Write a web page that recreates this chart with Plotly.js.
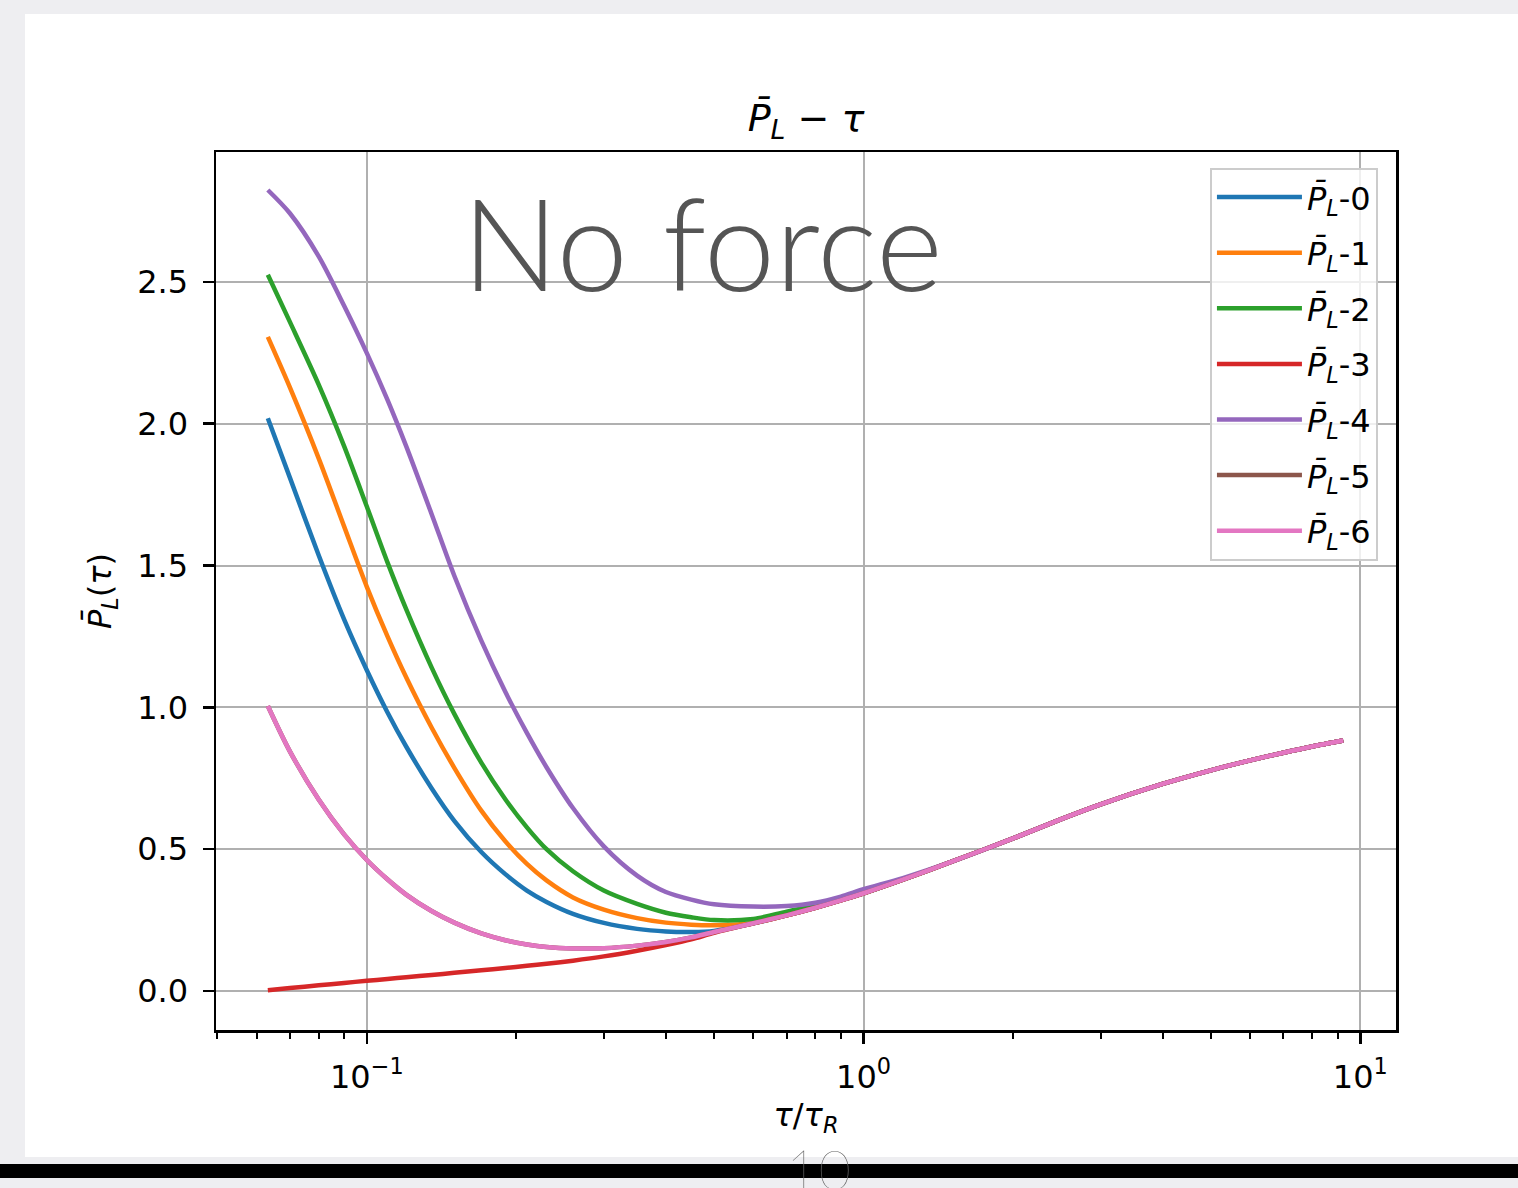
<!DOCTYPE html>
<html><head><meta charset="utf-8">
<script src="https://cdn.plot.ly/plotly-3.0.1.min.js"></script>
<style>
html,body{margin:0;padding:0;width:1518px;height:1188px;overflow:hidden;background:#eeeef1;}
#slide{position:absolute;left:25px;top:14px;width:1493px;height:1143px;background:#fff;}
#bar{position:absolute;left:0;top:1164px;width:1518px;height:14px;background:#000;}
#chart{position:absolute;left:0;top:0;width:1518px;height:1188px;}
#noforce{position:absolute;left:462px;top:178px;font-family:Lato,"Open Sans",sans-serif;font-weight:300;font-size:128px;line-height:128px;color:#555;white-space:nowrap;}
#pnum{position:absolute;left:786px;top:1147px;font-family:Lato,"Open Sans",sans-serif;font-weight:100;font-size:56px;line-height:44px;color:#666;}
</style></head>
<body>
<div id="slide"></div>
<div id="bar"></div>
<div id="chart"></div>
<div id="noforce">No force</div>
<div id="pnum">10</div>
<script>
// tau / tau_R
const tau = [0.0632,0.07,0.08,0.09,0.1,0.11,0.12,0.135,0.15,0.17,0.19,0.21,0.23,0.26,0.3,0.35,0.4,0.45,0.5,0.6,0.7,0.8,0.9,1.0,1.2,1.5,2,2.5,3,4,5,6,7,8,9.24];
const pl0 = [2.019,1.810,1.536,1.310,1.131,0.983,0.862,0.715,0.600,0.490,0.412,0.354,0.314,0.272,0.240,0.219,0.210,0.208,0.212,0.2386,0.2668,0.2936,0.3196,0.3446,0.3926,0.455,0.538,0.606,0.658,0.730,0.778,0.813,0.840,0.862,0.883];
const pl1 = [2.306,2.128,1.878,1.638,1.425,1.251,1.106,0.929,0.787,0.636,0.528,0.448,0.390,0.330,0.287,0.257,0.241,0.234,0.232,0.240,0.2668,0.2936,0.3196,0.3446,0.3926,0.455,0.538,0.606,0.658,0.730,0.778,0.813,0.840,0.862,0.883];
const pl2 = [2.525,2.359,2.138,1.921,1.708,1.512,1.346,1.141,0.977,0.805,0.676,0.577,0.500,0.422,0.354,0.307,0.276,0.260,0.250,0.254,0.280,0.300,0.3215,0.3446,0.3926,0.455,0.538,0.606,0.658,0.730,0.778,0.813,0.840,0.862,0.883];
const pl3 = [0.003,0.0105,0.020,0.0285,0.036,0.0425,0.0485,0.0565,0.064,0.073,0.081,0.089,0.096,0.107,0.122,0.142,0.162,0.182,0.205,0.2386,0.2668,0.2936,0.3196,0.3446,0.3926,0.455,0.538,0.606,0.658,0.730,0.778,0.813,0.840,0.862,0.883];
const pl4 = [2.824,2.742,2.590,2.416,2.249,2.085,1.921,1.682,1.464,1.235,1.055,0.910,0.789,0.645,0.510,0.407,0.349,0.322,0.3055,0.2975,0.2995,0.311,0.3326,0.3587,0.398,0.455,0.538,0.606,0.658,0.730,0.778,0.813,0.840,0.862,0.883];
const pl5 = [1.005,0.845,0.675,0.552,0.462,0.394,0.340,0.282,0.241,0.203,0.179,0.164,0.155,0.150,0.151,0.160,0.173,0.189,0.208,0.2386,0.2668,0.2936,0.3196,0.3446,0.3926,0.455,0.538,0.606,0.658,0.730,0.778,0.813,0.840,0.862,0.883];
const pl6 = [1.005,0.845,0.675,0.552,0.462,0.394,0.340,0.282,0.241,0.203,0.179,0.164,0.155,0.150,0.151,0.160,0.173,0.189,0.208,0.2386,0.2668,0.2936,0.3196,0.3446,0.3926,0.455,0.538,0.606,0.658,0.730,0.778,0.813,0.840,0.862,0.883];
const seriesNames = ['<i>P̄</i><sub><i>L</i></sub>-0','<i>P̄</i><sub><i>L</i></sub>-1','<i>P̄</i><sub><i>L</i></sub>-2','<i>P̄</i><sub><i>L</i></sub>-3','<i>P̄</i><sub><i>L</i></sub>-4','<i>P̄</i><sub><i>L</i></sub>-5','<i>P̄</i><sub><i>L</i></sub>-6'];
const colors = ['#1f77b4','#ff7f0e','#2ca02c','#d62728','#9467bd','#8c564b','#e377c2'];
const xTickVals = [0.1,1,10];
const xTickText = ['10<sup>−1</sup>','10<sup>0</sup>','10<sup>1</sup>'];
const xMinorVals = [0.05,0.06,0.07,0.08,0.09,0.2,0.3,0.4,0.5,0.6,0.7,0.8,0.9,2,3,4,5,6,7,8,9];
const yTickVals = [0,0.5,1,1.5,2,2.5];

const ys = [pl0,pl1,pl2,pl3,pl4,pl5,pl6];
const traces = ys.map((y,i)=>({
  x: tau, y: y, type:'scatter', mode:'lines', name: seriesNames[i],
  legendgroup: 'g'+i,
  line:{color: colors[i], width:4.5, shape:'spline', smoothing:0.8}
}));
const F = 'DejaVu Sans, sans-serif';
const layout = {
  width:1518, height:1188,
  paper_bgcolor:'rgba(0,0,0,0)', plot_bgcolor:'#fff',
  margin:{l:216, r:122, t:152, b:158},
  font:{family:F, size:32, color:'#000'},
  title:{text:'<i>P̄</i><sub><i>L</i></sub> − <i>τ</i>', font:{family:F,size:38,color:'#000'}, x:0.5, xref:'paper', xanchor:'center', y:1, yref:'paper', yanchor:'bottom', pad:{b:21}},
  xaxis:{type:'log', range:[Math.log10(0.0497), Math.log10(11.8)], tickmode:'array', tickvals:xTickVals, ticktext:xTickText,
    ticks:'outside', ticklen:11, tickwidth:2.5, tickcolor:'#000', ticklabelstandoff:6,
    showline:true, mirror:true, linecolor:'#000', linewidth:2.5,
    showgrid:true, gridcolor:'#b0b0b0', gridwidth:2, zeroline:false,
    minor:{tickmode:'array', tickvals:xMinorVals, ticks:'outside', ticklen:6, tickwidth:2, tickcolor:'#000', showgrid:false},
    title:{text:'<i>τ</i>/<i>τ</i><sub><i>R</i></sub>', font:{family:F,size:32,color:'#000'}, standoff:1},
    tickfont:{family:F,size:32,color:'#000'}},
  yaxis:{range:[-0.1375, 2.958], tickmode:'array', tickvals:yTickVals, tickformat:'.1f',
    ticks:'outside', ticklen:11, tickwidth:2.5, tickcolor:'#000', ticklabelstandoff:8,
    showline:true, mirror:true, linecolor:'#000', linewidth:2.5,
    showgrid:true, gridcolor:'#b0b0b0', gridwidth:2, zeroline:false,
    title:{text:'<i>P̄</i><sub><i>L</i></sub>(<i>τ</i>)', font:{family:F,size:32,color:'#000'}, standoff:16},
    tickfont:{family:F,size:32,color:'#000'}},
  legend:{x:0.9847, xanchor:'right', y:0.982, yanchor:'top', bgcolor:'rgba(255,255,255,0.8)', bordercolor:'#cccccc', borderwidth:2,
    font:{family:F,size:32,color:'#000'}, tracegroupgap:11, itemwidth:85},
  showlegend:true
};
Plotly.newPlot('chart', traces, layout, {displayModeBar:false, staticPlot:true});
</script>
</body></html>
